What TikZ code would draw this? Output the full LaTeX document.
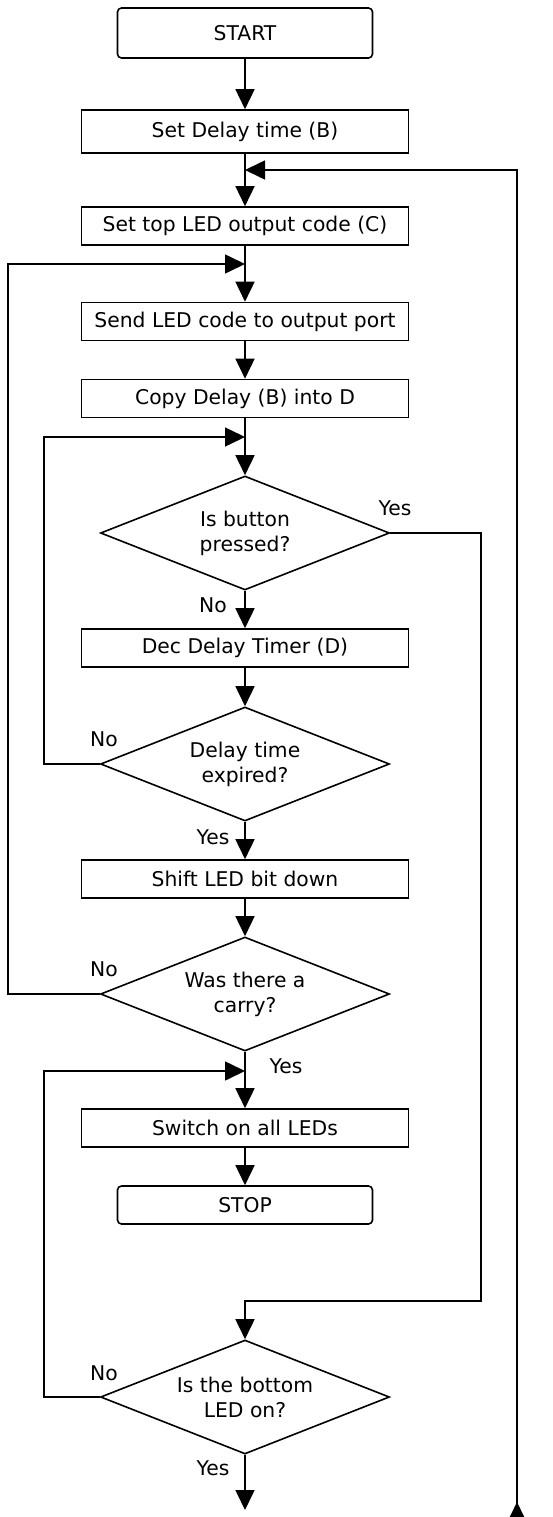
\documentclass[tikz,border=0pt]{standalone}
\usepackage{fontspec}
\setmainfont{DejaVu Sans}
\usetikzlibrary{arrows.meta,shapes.geometric}
\begin{document}
\begin{tikzpicture}[x=1pt,y=-1pt,
  line width=1.6pt,
  every node/.style={font=\fontsize{20.3}{25}\selectfont},
  procbox/.style={draw, rectangle, minimum width=327pt, minimum height=#1, inner sep=0pt},
  procbox/.default=38pt,
  termbox/.style={draw, rectangle, rounded corners=4pt, minimum width=255pt, minimum height=#1, inner sep=0pt},
  termbox/.default=38pt,
  decision/.style={draw, diamond, aspect=2.53, minimum width=289pt, minimum height=114pt, inner sep=0pt, align=center},
  arr/.style={-{Triangle[width=19pt,length=20pt]}},
  lbl/.style={inner sep=0pt}
]
\useasboundingbox (0,0) rectangle (552,1517);

% main column
\node[termbox=50pt] (start)    at (245,33)     {START};
\node[procbox=43pt] (setdelay) at (245,131.5)  {Set Delay time (B)};
\node[procbox]      (settop)   at (245,226)    {Set top LED output code (C)};
\node[procbox]      (send)     at (245,321.5)  {Send LED code to output port};
\node[procbox]      (copy)     at (245,398.5)  {Copy Delay (B) into D};
\node[decision]     (btn)      at (245,533)    {Is button\\pressed?};
\node[procbox]      (dec)      at (245,648)    {Dec Delay Timer (D)};
\node[decision]     (exp)      at (245,764)    {Delay time\\expired?};
\node[procbox]      (shift)    at (245,879)    {Shift LED bit down};
\node[decision]     (carry)    at (245,994)    {Was there a\\carry?};
\node[procbox]      (allon)    at (245,1128)   {Switch on all LEDs};
\node[termbox]      (stop)     at (245,1205)   {STOP};
\node[decision]     (bottom)   at (245,1397)   {Is the bottom\\LED on?};

% junction points on the main column
\coordinate (j1) at (245,170);
\coordinate (j2) at (245,264);
\coordinate (j3) at (245,437);
\coordinate (j4) at (245,1071);
\coordinate (k2) at (8,264);
\coordinate (k3) at (44,437);
\coordinate (k4) at (44,1071);
\coordinate (yr) at (481,1301);
\coordinate (rtop) at (517,170);
\coordinate (rbot) at (517,1540);
\coordinate (rtip) at (517,1502);
\coordinate (out) at (245,1510);

% straight flow
\draw[arr] (start) -- (setdelay);
\draw[arr] (setdelay) -- (settop);
\draw[arr] (settop) -- (send);
\draw[arr] (send) -- (copy);
\draw[arr] (copy) -- (btn);
\draw[arr] (btn) -- (dec);
\draw[arr] (dec) -- (exp);
\draw[arr] (exp) -- (shift);
\draw[arr] (shift) -- (carry);
\draw[arr] (carry) -- (allon);
\draw[arr] (allon) -- (stop);
\draw[arr] (bottom) -- (out);

% loops back
\draw[arr] (rbot) -- (rtop) -- (j1);
\draw[arr] (rbot) -- (rtip);
\draw[arr] (carry.west) -| (k2) -- (j2);
\draw[arr] (exp.west) -| (k3) -- (j3);
\draw[arr] (bottom.west) -| (k4) -- (j4);
\draw[arr] (btn.east) -| (yr) -| (bottom.north);

% branch labels
\node[lbl] (y1) at (395,508)  {Yes};
\node[lbl] (n1) at (213,605)  {No};
\node[lbl] (n2) at (104,739)  {No};
\node[lbl] (y2) at (213,837)  {Yes};
\node[lbl] (n3) at (104,969)  {No};
\node[lbl] (y3) at (286,1066) {Yes};
\node[lbl] (n4) at (104,1373) {No};
\node[lbl] (y4) at (213,1468) {Yes};
\end{tikzpicture}
\end{document}
